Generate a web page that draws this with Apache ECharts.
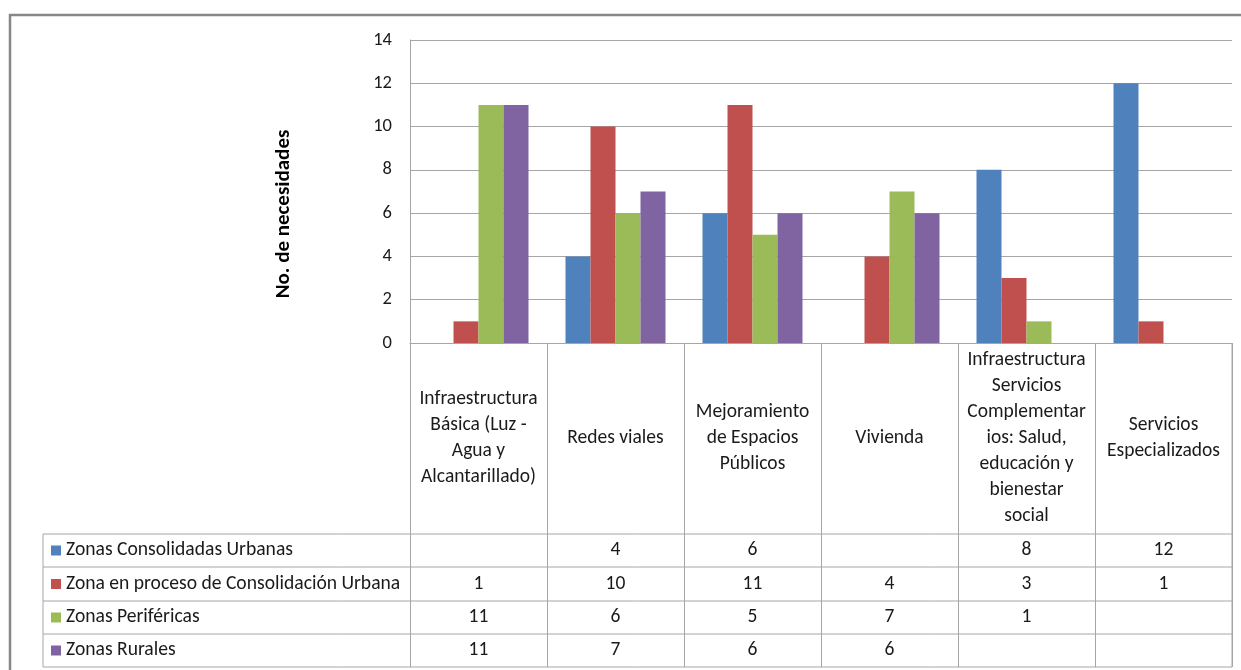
<!DOCTYPE html>
<html>
<head>
<meta charset="utf-8">
<script src="https://cdn.jsdelivr.net/npm/echarts@6/dist/echarts.min.js"></script>
<style>
html,body{margin:0;padding:0;background:#fff;}
#chart{width:1241px;height:670px;}
</style>
</head>
<body>
<div id="chart"></div>
<script>
const categories = [
  'Infraestructura\nBásica (Luz -\nAgua y\nAlcantarillado)',
  'Redes viales',
  'Mejoramiento\nde Espacios\nPúblicos',
  'Vivienda',
  'Infraestructura\nServicios\nComplementar\nios: Salud,\neducación y\nbienestar\nsocial',
  'Servicios\nEspecializados'
];
const seriesNames = [
  'Zonas Consolidadas Urbanas',
  'Zona en proceso de Consolidación Urbana',
  'Zonas Periféricas',
  'Zonas Rurales'
];
const consolidadas = [null, 4, 6, null, 8, 12];
const enProceso = [1, 10, 11, 4, 3, 1];
const perifericas = [11, 6, 5, 7, 1, null];
const rurales = [11, 7, 6, 6, null, null];
const colors = ['#4F81BD', '#C0504D', '#9BBB59', '#8064A2'];
const yTicks = [0, 2, 4, 6, 8, 10, 12, 14];
const yTitle = 'No. de necesidades';

const FONT = 'Carlito, Lato, "Open Sans", sans-serif';
const allSeries = [consolidadas, enProceso, perifericas, rurales];
const TXT = '#1a1a1a';
const LINE = '#a6a6a6';

const chart = echarts.init(document.getElementById('chart'));
const option = {
  animation: false,
  backgroundColor: '#fff',
  textStyle: { fontFamily: FONT },
  grid: { left: 410, right: 9, top: 40, bottom: 327 },
  xAxis: {
    type: 'category',
    data: categories,
    axisLine: { show: true, lineStyle: { color: LINE, width: 1 } },
    axisTick: { show: true, alignWithLabel: false, length: 324, lineStyle: { color: LINE, width: 1 } },
    axisLabel: {
      interval: 0, margin: 95, verticalAlign: 'middle', align: 'center',
      fontSize: 19.5, lineHeight: 26, color: TXT, fontFamily: FONT
    }
  },
  yAxis: {
    type: 'value', min: yTicks[0], max: yTicks[yTicks.length - 1], interval: 2,
    axisLine: { show: true, lineStyle: { color: LINE } },
    axisTick: { show: false },
    axisLabel: { margin: 18, fontSize: 18.5, color: TXT, fontFamily: FONT },
    splitLine: { show: true, lineStyle: { color: LINE, width: 1 } }
  },
  series: allSeries.map((d, i) => ({
    name: seriesNames[i],
    type: 'bar',
    data: d,
    barGap: '0%',
    barCategoryGap: '27%',
    itemStyle: { color: colors[i] }
  }))
};
chart.setOption(option);

const graphics = [];
graphics.push({ type: 'rect', shape: { x: 10, y: 15, width: 1260, height: 700 }, style: { fill: null, stroke: '#878787', lineWidth: 2.5 }, silent: true, z: 100 });
graphics.push({
  type: 'text', x: 284, y: 214, rotation: Math.PI / 2,
  style: { text: yTitle, fill: '#000', font: 'bold 21px ' + FONT, align: 'center', verticalAlign: 'middle' }
});
const rowLines = [534, 567, 601, 634, 667];
const tableLeft = 43, tableRight = 1232;
rowLines.forEach(y => {
  graphics.push({ type: 'line', shape: { x1: tableLeft, y1: y, x2: tableRight, y2: y }, style: { stroke: LINE, lineWidth: 1 }, z: 10 });
});
graphics.push({ type: 'line', shape: { x1: tableLeft, y1: rowLines[0], x2: tableLeft, y2: rowLines[rowLines.length - 1] }, style: { stroke: LINE, lineWidth: 1 }, z: 10 });
graphics.push({ type: 'line', shape: { x1: tableRight, y1: 343, x2: tableRight, y2: rowLines[rowLines.length - 1] }, style: { stroke: LINE, lineWidth: 1 }, z: 10 });
seriesNames.forEach((name, r) => {
  const cy = (rowLines[r] + rowLines[r + 1]) / 2;
  graphics.push({ type: 'rect', shape: { x: 51, y: cy - 5, width: 10, height: 10 }, style: { fill: colors[r] } });
  graphics.push({ type: 'text', x: 66, y: cy, style: { text: name, font: '19.6px ' + FONT, fill: TXT, align: 'left', verticalAlign: 'middle' } });
  allSeries[r].forEach((v, c) => {
    if (v === null || v === undefined) return;
    const cx = chart.convertToPixel({ xAxisIndex: 0 }, categories[c]);
    graphics.push({ type: 'text', x: cx, y: cy, style: { text: String(v), font: '19.5px ' + FONT, fill: TXT, align: 'center', verticalAlign: 'middle' } });
  });
});
chart.setOption({ graphic: graphics });
</script>
</body>
</html>
